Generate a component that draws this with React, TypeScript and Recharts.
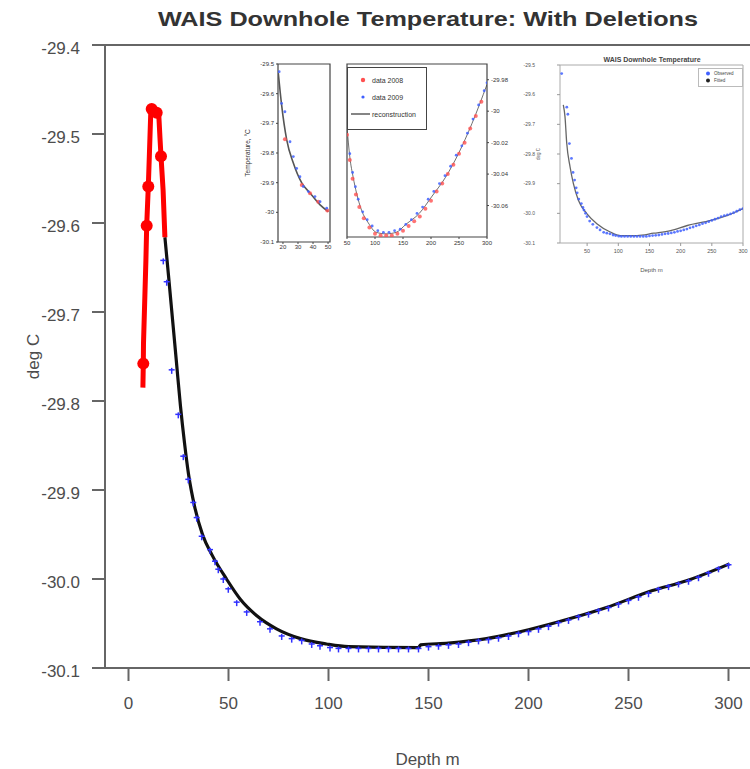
import React from 'react';
import {
  ComposedChart,
  Line,
  Scatter,
  XAxis,
  YAxis,
  ReferenceLine,
  ReferenceArea,
} from 'recharts';

const FONT = '"Liberation Sans", Arial, sans-serif';

// ---------- main plot ----------
const xTicks = [0, 50, 100, 150, 200, 250, 300];
const yTicks = [-30.1, -30.0, -29.9, -29.8, -29.7, -29.6, -29.5, -29.4];

// shallow readings that got deleted (red)
const delDepth = [7.2, 7.4, 7.5, 8.7, 9.1, 9.9, 10.4, 11.1, 11.6, 12.8, 14.1, 15.2, 15.75, 16.25, 17.3, 18.2];
const delTemp = [-29.785, -29.758, -29.735, -29.642, -29.603, -29.559, -29.526, -29.478, -29.472, -29.474, -29.476, -29.481, -29.505, -29.525, -29.563, -29.616];
const delMarkDepth = [7.4, 9.1, 9.9, 11.6, 14.1, 16.25];
const delMarkTemp = [-29.758, -29.603, -29.559, -29.472, -29.476, -29.525];

// kept readings (blue)
const obsDepth = [17.4, 19.1, 21.6, 24.9, 27.4, 29.9, 32.4, 34.1, 36.6, 40.75, 43.25, 44.9, 47.4, 49.9, 54.1, 59.1, 65.75, 70.75, 76.6, 81.6, 86.6, 91.6, 95.75, 100.75, 105, 110, 115, 120, 125, 130, 135, 140, 145, 150, 155, 160, 165, 170, 175, 180, 185, 190, 195, 200, 205, 210, 215, 220, 225, 230, 235, 240, 245, 250, 255, 260, 265, 270, 275, 280, 285, 290, 295, 300];
const obsTemp = [-29.642, -29.666, -29.765, -29.815, -29.862, -29.888, -29.914, -29.931, -29.952, -29.967, -29.98, -29.989, -30.0, -30.011, -30.026, -30.037, -30.048, -30.056, -30.064, -30.067, -30.069, -30.073, -30.075, -30.077, -30.078, -30.078, -30.078, -30.078, -30.078, -30.078, -30.078, -30.078, -30.078, -30.076, -30.075, -30.074, -30.073, -30.071, -30.069, -30.068, -30.066, -30.064, -30.061, -30.059, -30.056, -30.053, -30.049, -30.046, -30.042, -30.039, -30.035, -30.032, -30.028, -30.024, -30.02, -30.016, -30.011, -30.008, -30.005, -30.002, -29.998, -29.993, -29.988, -29.984];

// reconstruction (black)
const fitDepth = [18.2, 20, 22, 24, 26, 28, 30, 33, 37, 42, 49, 56, 64, 74, 86, 99, 110, 145, 146, 160, 179, 200, 220, 239, 262, 279, 300.5];
const fitTemp = [-29.616, -29.659, -29.708, -29.757, -29.806, -29.847, -29.882, -29.918, -29.95, -29.974, -30.0, -30.023, -30.041, -30.056, -30.067, -30.073, -30.076, -30.077, -30.074, -30.072, -30.067, -30.057, -30.045, -30.032, -30.013, -30.002, -29.983];

// ---------- inset 1: top 50 m ----------
const in1XTicks = [20, 30, 40, 50];
const in1YTicks = [-30.1, -30, -29.9, -29.8, -29.7, -29.6, -29.5];
const in1FitDepth = [16.9, 19.1, 22.5, 26.9, 32.5, 38, 44.7, 50.2];
const in1FitTemp = [-29.531, -29.638, -29.756, -29.834, -29.901, -29.935, -29.975, -29.998];
const in1BlueDepth = [17.5, 19.1, 21.3, 24.7, 26.9, 29.1, 31.3, 33.5, 36.9, 41.3, 44.7, 49.1];
const in1BlueTemp = [-29.526, -29.633, -29.661, -29.762, -29.812, -29.852, -29.88, -29.913, -29.93, -29.947, -29.964, -29.986];
const in1RedDepth = [21.3, 32.5, 38, 43.5, 49.5];
const in1RedTemp = [-29.754, -29.908, -29.936, -29.964, -29.994];

// ---------- inset 2: 50-300 m ----------
const in2XTicks = [50, 100, 150, 200, 250, 300];
const in2YTicks = [-30.06, -30.04, -30.02, -30, -29.98];
const in2FitDepth = [50, 55, 61, 67, 76, 88, 102, 120, 138, 155, 179, 202, 226, 249, 273, 300];
const in2FitTemp = [-30.01, -30.029, -30.042, -30.052, -30.063, -30.071, -30.077, -30.078, -30.077, -30.072, -30.065, -30.054, -30.042, -30.027, -30.008, -29.983];
const in2RedDepth = [50, 55, 60, 66, 72, 80, 90, 100, 110, 120, 130, 140, 150, 160, 170, 180, 190, 200, 210, 220, 230, 240, 250, 260, 270, 280, 290];
const in2RedTemp = [-30.015, -30.031, -30.043, -30.053, -30.061, -30.068, -30.074, -30.078, -30.079, -30.079, -30.079, -30.078, -30.076, -30.073, -30.07, -30.067, -30.062, -30.057, -30.051, -30.046, -30.04, -30.034, -30.027, -30.02, -30.011, -30.003, -29.994];
const in2BlueDepth = [50, 55, 60, 65, 70, 78, 86, 95, 105, 115, 125, 135, 145, 155, 165, 175, 185, 195, 205, 215, 225, 235, 245, 255, 265, 275, 285, 295, 300];
const in2BlueTemp = [-30.009, -30.027, -30.039, -30.048, -30.056, -30.064, -30.069, -30.073, -30.076, -30.077, -30.077, -30.076, -30.075, -30.072, -30.069, -30.065, -30.061, -30.056, -30.051, -30.046, -30.041, -30.035, -30.028, -30.022, -30.014, -30.005, -29.996, -29.987, -29.982];

// ---------- inset 3: full profile ----------
const in3XTicks = [50, 100, 150, 200, 250, 300];
const in3YTicks = [-30.1, -30.0, -29.9, -29.8, -29.7, -29.6, -29.5];
const in3FitDepth = [11.8, 14.5, 17.3, 22.6, 27.9, 36, 49.5, 65.6, 87.1, 103.2, 130.2, 156.9, 183.9, 210.8, 248.4, 275.3, 300];
const in3FitTemp = [-29.634, -29.674, -29.764, -29.843, -29.899, -29.956, -30.001, -30.035, -30.063, -30.075, -30.075, -30.067, -30.058, -30.041, -30.024, -30.007, -29.984];
const in3ExtraDepth = [9.2];
const in3ExtraTemp = [-29.529];

const zip = (xs: number[], ys: number[]) => xs.map((d, i) => ({ d, t: ys[i] }));
const matlabFmt = (v: number) => String(+v.toFixed(2));

const BluePlus = (p: any) => (
  <g stroke="#3030ff" strokeWidth={1.5}>
    <line x1={p.cx - 3} y1={p.cy} x2={p.cx + 3} y2={p.cy} />
    <line x1={p.cx} y1={p.cy - 2} x2={p.cx} y2={p.cy + 4} />
  </g>
);
const RedBig = (p: any) => <circle cx={p.cx} cy={p.cy} r={6} fill="#ff0000" />;
const RedSmall = (p: any) => <circle cx={p.cx} cy={p.cy} r={2} fill="#ff5050" fillOpacity={0.8} />;
const BlueSmall = (p: any) => <circle cx={p.cx} cy={p.cy} r={1.4} fill="#4060ff" fillOpacity={0.85} />;

const YTick = ({ x, y, payload }: any) => (
  <text x={x} y={y} dy={5} textAnchor="end" dominantBaseline="middle" fill="#4d4d4d" fontSize={17} fontFamily={FONT}>
    {payload.value.toFixed(1)}
  </text>
);

function InsetShallow() {
  return (
    <div style={{ position: 'absolute', left: 240, top: 55, background: '#fff' }}>
      <ComposedChart width={100} height={200} margin={{ top: 9, right: 10, bottom: 0, left: 0 }}>
        <XAxis type="number" dataKey="d" domain={[16.7, 51.3]} ticks={in1XTicks} allowDataOverflow height={13}
          tickSize={2} tickMargin={1} axisLine={false} tickLine={{ stroke: '#444' }}
          tick={{ fontSize: 6, fill: '#333', fontFamily: FONT }} />
        <YAxis type="number" dataKey="t" domain={[-30.1, -29.5]} ticks={in1YTicks} allowDataOverflow width={38}
          tickSize={2} tickMargin={2} axisLine={false} tickLine={{ stroke: '#444' }} tickFormatter={matlabFmt}
          tick={{ fontSize: 6, fill: '#333', fontFamily: FONT }}
          label={{ value: 'Temperature, °C', angle: -90, position: 'insideLeft', offset: 8, fontSize: 6.5, fill: '#333', style: { textAnchor: 'middle' } }} />
        <ReferenceArea x1={16.7} x2={51.3} y1={-30.1} y2={-29.5} fill="none" stroke="#444" strokeWidth={1.2} ifOverflow="visible" />
        <Line data={zip(in1FitDepth, in1FitTemp)} dataKey="t" type="monotone" stroke="#555" strokeWidth={1.6} dot={false} isAnimationActive={false} />
        <Scatter data={zip(in1RedDepth, in1RedTemp)} shape={RedSmall} isAnimationActive={false} />
        <Scatter data={zip(in1BlueDepth, in1BlueTemp)} shape={BlueSmall} isAnimationActive={false} />
      </ComposedChart>
    </div>
  );
}

function InsetDeep() {
  const row = { position: 'absolute' as const, left: 0, height: 16, display: 'flex', alignItems: 'center' };
  return (
    <div style={{ position: 'absolute', left: 340, top: 55, background: '#fff' }}>
      <ComposedChart width={190} height={200} margin={{ top: 9, right: 0, bottom: 0, left: 7 }}>
        <XAxis type="number" dataKey="d" domain={[50, 300]} ticks={in2XTicks} allowDataOverflow height={18}
          tickSize={2} tickMargin={2} axisLine={false} tickLine={{ stroke: '#444' }}
          tick={{ fontSize: 6, fill: '#333', fontFamily: FONT }} />
        <YAxis type="number" dataKey="t" orientation="right" domain={[-30.08, -29.97]} ticks={in2YTicks} allowDataOverflow width={43}
          tickSize={2} tickMargin={2} axisLine={false} tickLine={{ stroke: '#444' }} tickFormatter={matlabFmt}
          tick={{ fontSize: 6, fill: '#333', fontFamily: FONT }}
          label={{ value: 'Temperature, °C', angle: -90, position: 'insideRight', offset: 9, fontSize: 7, fill: '#333', style: { textAnchor: 'middle' } }} />
        <ReferenceArea x1={50} x2={300} y1={-30.08} y2={-29.97} fill="none" stroke="#444" strokeWidth={1.2} ifOverflow="visible" />
        <Scatter data={zip(in2RedDepth, in2RedTemp)} shape={RedSmall} isAnimationActive={false} />
        <Scatter data={zip(in2BlueDepth, in2BlueTemp)} shape={BlueSmall} isAnimationActive={false} />
        <Line data={zip(in2FitDepth, in2FitTemp)} dataKey="t" type="monotone" stroke="#333" strokeWidth={1} strokeOpacity={0.7} dot={false} isAnimationActive={false} />
      </ComposedChart>
      <div style={{ position: 'absolute', left: 7, top: 12, width: 80, height: 63, border: '1px solid #444', background: '#fff', boxSizing: 'border-box', fontFamily: FONT, fontSize: 7, color: '#333' }}>
        <div style={{ ...row, top: 4 }}>
          <svg width={24} height={16}><circle cx={15} cy={8} r={2.2} fill="#ff5050" /></svg>
          <span>data 2008</span>
        </div>
        <div style={{ ...row, top: 21 }}>
          <svg width={24} height={16}><circle cx={15} cy={8} r={1.6} fill="#4060ff" /></svg>
          <span>data 2009</span>
        </div>
        <div style={{ ...row, top: 38 }}>
          <svg width={24} height={16}><line x1={3} y1={8} x2={22} y2={8} stroke="#333" strokeWidth={1.2} /></svg>
          <span>reconstruction</span>
        </div>
      </div>
    </div>
  );
}

function InsetFull() {
  const observed = [...zip(in3ExtraDepth, in3ExtraTemp), ...zip(obsDepth, obsTemp)];
  return (
    <div style={{ position: 'absolute', left: 515, top: 50, background: '#fff' }}>
      <div style={{ position: 'absolute', left: 137, top: 9, transform: 'translate(-50%, -50%)', whiteSpace: 'nowrap', fontFamily: FONT, fontSize: 7, fontWeight: 'bold', color: '#444' }}>
        WAIS Downhole Temperature
      </div>
      <ComposedChart width={235} height={225} margin={{ top: 15, right: 7, bottom: 0, left: 0 }}>
        <XAxis type="number" dataKey="d" domain={[6.5, 300]} ticks={in3XTicks} allowDataOverflow height={32}
          tickSize={3} tickMargin={3} axisLine={false} tickLine={{ stroke: '#999' }}
          tick={{ fontSize: 5.5, fill: '#555', fontFamily: FONT }}
          label={{ value: 'Depth m', position: 'insideBottom', offset: 3, fontSize: 6, fill: '#555' }} />
        <YAxis type="number" dataKey="t" domain={[-30.1, -29.5]} ticks={in3YTicks} allowDataOverflow width={45}
          tickSize={3} tickMargin={22} axisLine={false} tickLine={{ stroke: '#999' }} tickFormatter={(v: number) => v.toFixed(1)}
          tick={{ fontSize: 5, fill: '#555', fontFamily: FONT }}
          label={{ value: 'deg C', angle: -90, position: 'insideLeft', offset: 23, fontSize: 4.5, fill: '#555', style: { textAnchor: 'middle' } }} />
        <ReferenceArea x1={6.5} x2={300} y1={-30.1} y2={-29.5} fill="none" stroke="#aaa" strokeWidth={1} ifOverflow="visible" />
        <Scatter data={observed} shape={BlueSmall} isAnimationActive={false} />
        <Line data={zip(in3FitDepth, in3FitTemp)} dataKey="t" type="monotone" stroke="#333" strokeWidth={1.3} strokeOpacity={0.75} dot={false} isAnimationActive={false} />
      </ComposedChart>
      <div style={{ position: 'absolute', left: 183, top: 18, width: 45, height: 19, border: '1px solid #bbb', background: '#fff', boxSizing: 'border-box', fontFamily: FONT, fontSize: 4.5, color: '#444' }}>
        <div style={{ position: 'absolute', left: 0, top: 1, display: 'flex', alignItems: 'center', height: 7 }}>
          <svg width={15} height={7}><circle cx={9} cy={3.5} r={2} fill="#4060ff" /></svg>
          <span>Observed</span>
        </div>
        <div style={{ position: 'absolute', left: 0, top: 8, display: 'flex', alignItems: 'center', height: 7 }}>
          <svg width={15} height={7}><circle cx={9} cy={3.5} r={2} fill="#222" /></svg>
          <span>Fitted</span>
        </div>
      </div>
    </div>
  );
}

export default function App() {
  return (
    <div style={{ position: 'absolute', left: 0, top: 0, width: 750, height: 769, background: '#fff', fontFamily: FONT, overflow: 'hidden' }}>
      <div style={{ position: 'absolute', left: 428, top: 19, transform: 'translate(-50%, -50%) scaleX(1.23)', whiteSpace: 'nowrap', fontSize: 20.5, fontWeight: 'bold', color: '#333' }}>
        WAIS Downhole Temperature: With Deletions
      </div>
      <ComposedChart width={750} height={769} margin={{ top: 45, right: 0, bottom: 0, left: 0 }}>
        <XAxis type="number" dataKey="d" domain={[-11.75, 310.75]} ticks={xTicks} allowDataOverflow height={101}
          tickSize={13} tickMargin={16} axisLine={{ stroke: '#666', strokeWidth: 2 }} tickLine={{ stroke: '#666', strokeWidth: 2 }}
          tick={{ fontSize: 17, fill: '#4d4d4d', fontFamily: FONT }}
          label={{ value: 'Depth m', position: 'insideBottom', offset: 4, fontSize: 17, fill: '#4d4d4d' }} />
        <YAxis type="number" dataKey="t" domain={[-30.1, -29.4]} ticks={yTicks} allowDataOverflow width={105}
          tickSize={13} tickMargin={12} axisLine={{ stroke: '#666', strokeWidth: 2 }} tickLine={{ stroke: '#666', strokeWidth: 2 }}
          tick={<YTick />}
          label={{ value: 'deg C', angle: -90, position: 'insideLeft', offset: 33, fontSize: 17, fill: '#4d4d4d', style: { textAnchor: 'middle' } }} />
        <ReferenceLine y={-29.4} stroke="#666" strokeWidth={2} />
        <Scatter data={zip(obsDepth, obsTemp)} shape={BluePlus} isAnimationActive={false} />
        <Line data={zip(fitDepth, fitTemp)} dataKey="t" type="monotone" stroke="#111" strokeWidth={3.2} dot={false} isAnimationActive={false} />
        <Line data={zip(delDepth, delTemp)} dataKey="t" type="linear" stroke="#ff0000" strokeWidth={5} dot={false} isAnimationActive={false} />
        <Scatter data={zip(delMarkDepth, delMarkTemp)} shape={RedBig} isAnimationActive={false} />
      </ComposedChart>
      <InsetShallow />
      <InsetDeep />
      <InsetFull />
    </div>
  );
}
